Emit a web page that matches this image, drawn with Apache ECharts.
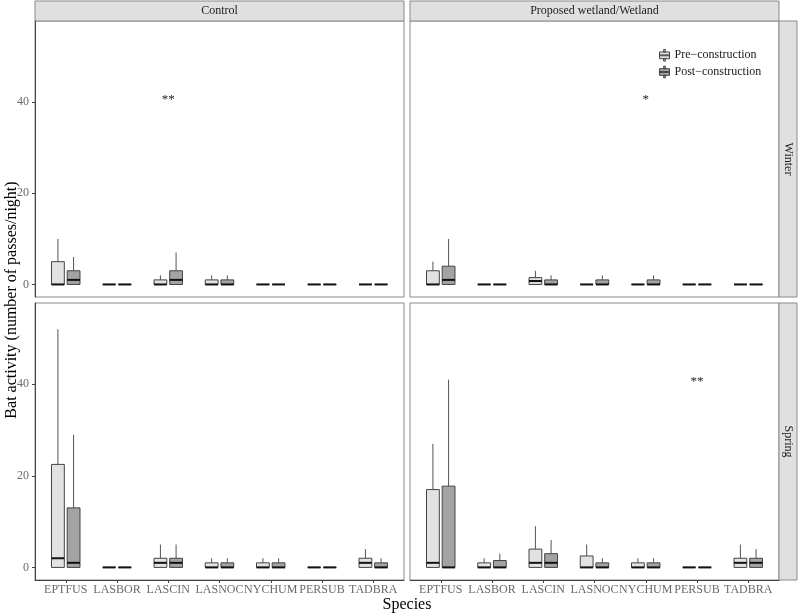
<!DOCTYPE html>
<html lang="en">
<head>
    <meta charset="UTF-8">
    <title>Bat activity boxplots</title>
    <script src="https://cdn.jsdelivr.net/npm/echarts@6.0.0/dist/echarts.min.js"></script>
    <style>
        html, body {
            margin: 0;
            padding: 0;
            background: #fff;
        }

        #chart {
            width: 800px;
            height: 615px;
        }
    </style>
</head>
<body>
<div id="chart"></div>
<script>
    const species = ['EPTFUS', 'LASBOR', 'LASCIN', 'LASNOC', 'NYCHUM', 'PERSUB', 'TADBRA'];
    const yTicks = [0, 20, 40];
    const groups = ['Pre−construction', 'Post−construction'];

    // one row per species: [min, q1, median, q3, max]
    const controlWinterPre = [[0, 0, 0, 5, 10], [0, 0, 0, 0, 0], [0, 0, 0, 1, 2], [0, 0, 0, 1, 2], [0, 0, 0, 0, 0], [0, 0, 0, 0, 0], [0, 0, 0, 0, 0]];
    const controlWinterPost = [[0, 0, 1, 3, 6], [0, 0, 0, 0, 0], [0, 0, 1, 3, 7], [0, 0, 0, 1, 2], [0, 0, 0, 0, 0], [0, 0, 0, 0, 0], [0, 0, 0, 0, 0]];
    const wetlandWinterPre = [[0, 0, 0, 3, 5], [0, 0, 0, 0, 0], [0, 0, 0.75, 1.5, 3], [0, 0, 0, 0, 0], [0, 0, 0, 0, 0], [0, 0, 0, 0, 0], [0, 0, 0, 0, 0]];
    const wetlandWinterPost = [[0, 0, 1, 4, 10], [0, 0, 0, 0, 0], [0, 0, 0, 1, 2], [0, 0, 0, 1, 2], [0, 0, 0, 1, 2], [0, 0, 0, 0, 0], [0, 0, 0, 0, 0]];
    const controlSpringPre = [[0, 0, 2, 22.5, 52], [0, 0, 0, 0, 0], [0, 0, 1, 2, 5], [0, 0, 0, 1, 2], [0, 0, 0, 1, 2], [0, 0, 0, 0, 0], [0, 0, 1, 2, 4]];
    const controlSpringPost = [[0, 0, 1, 13, 29], [0, 0, 0, 0, 0], [0, 0, 1, 2, 5], [0, 0, 0, 1, 2], [0, 0, 0, 1, 2], [0, 0, 0, 0, 0], [0, 0, 0, 1, 2]];
    const wetlandSpringPre = [[0, 0, 1, 17, 27], [0, 0, 0, 1, 2], [0, 0, 1, 4, 9], [0, 0, 0, 2.5, 5], [0, 0, 0, 1, 2], [0, 0, 0, 0, 0], [0, 0, 1, 2, 5]];
    const wetlandSpringPost = [[0, 0, 0, 17.75, 41], [0, 0, 0, 1.5, 3], [0, 0, 1, 3, 6], [0, 0, 0, 1, 2], [0, 0, 0, 1, 2], [0, 0, 0, 0, 0], [0, 0, 1, 2, 4]];

    // significance marks: [panel, species, y, text]
    const sigMarks = [
        [0, 'LASCIN', 40.5, '**'],
        [1, 'NYCHUM', 40.5, '*'],
        [3, 'PERSUB', 40.5, '**']
    ];

    const panels = [
        {pre: controlWinterPre, post: controlWinterPost, grid: {left: 35, top: 21, width: 369, height: 276}},
        {pre: wetlandWinterPre, post: wetlandWinterPost, grid: {left: 410, top: 21, width: 369, height: 276}},
        {pre: controlSpringPre, post: controlSpringPost, grid: {left: 35, top: 303, width: 369, height: 277}},
        {pre: wetlandSpringPre, post: wetlandSpringPost, grid: {left: 410, top: 303, width: 369, height: 277}}
    ];

    const font = '"Liberation Serif", "DejaVu Serif", serif';
    const fills = ['#e2e2e2', '#a3a3a3'];
    const dodge = [-0.153, 0.153];
    const boxWidth = 0.25;
    const catTicks = species.map((s, i) => i + 1);

    function boxRenderer(offset, fill) {
        return function (params, api) {
            const x = api.value(0) + offset;
            const v = [1, 2, 3, 4, 5].map(k => api.value(k));
            const half = api.size([boxWidth, 0])[0] / 2;
            const cx = api.coord([x, 0])[0];
            const y = val => api.coord([x, val])[1];
            return {
                type: 'group',
                children: [
                    {type: 'line', shape: {x1: cx, y1: y(v[3]), x2: cx, y2: y(v[4])}, style: {stroke: '#555', lineWidth: 1}},
                    {type: 'line', shape: {x1: cx, y1: y(v[1]), x2: cx, y2: y(v[0])}, style: {stroke: '#555', lineWidth: 1}},
                    {
                        type: 'rect',
                        shape: {x: cx - half, y: y(v[3]), width: half * 2, height: y(v[1]) - y(v[3])},
                        style: {fill: fill, stroke: '#444', lineWidth: 1}
                    },
                    {type: 'line', shape: {x1: cx - half, y1: y(v[2]), x2: cx + half, y2: y(v[2])}, style: {stroke: '#111', lineWidth: 2}}
                ]
            };
        };
    }

    const grids = [], xAxes = [], yAxes = [], series = [];
    panels.forEach((p, k) => {
        const bottom = k >= 2;
        const left = k % 2 === 0;
        grids.push(Object.assign({show: true, borderColor: '#8a8a8a', borderWidth: 1, backgroundColor: '#fff'}, p.grid));
        xAxes.push({
            type: 'value', gridIndex: k, min: 0.4, max: 7.6,
            splitLine: {show: false},
            axisLine: {show: bottom, onZero: false, lineStyle: {color: '#444'}},
            axisTick: {show: bottom, customValues: catTicks, length: 3, lineStyle: {color: '#444'}},
            axisLabel: {
                show: bottom, customValues: catTicks, margin: 4,
                formatter: val => species[Math.round(val) - 1],
                color: '#6a6a6a', fontFamily: font, fontSize: 12
            }
        });
        yAxes.push({
            type: 'value', gridIndex: k, min: -2.75, max: 57.75,
            splitLine: {show: false},
            axisLine: {show: left, lineStyle: {color: '#444'}},
            axisTick: {show: left, customValues: yTicks, length: 3, lineStyle: {color: '#444'}},
            axisLabel: {show: left, customValues: yTicks, margin: 6, color: '#6a6a6a', fontFamily: font, fontSize: 12}
        });
        [p.pre, p.post].forEach((arr, g) => {
            series.push({
                type: 'custom', name: groups[g], xAxisIndex: k, yAxisIndex: k,
                itemStyle: {color: fills[g]},
                renderItem: boxRenderer(dodge[g], fills[g]),
                encode: {x: 0, y: [1, 2, 3, 4, 5]},
                data: arr.map((d, i) => [i + 1].concat(d)),
                silent: true
            });
        });
        const marks = sigMarks.filter(m => m[0] === k);
        if (marks.length) {
            series.push({
                type: 'custom', xAxisIndex: k, yAxisIndex: k, silent: true,
                renderItem: function (params, api) {
                    const pt = api.coord([api.value(0), api.value(1)]);
                    return {
                        type: 'text', x: pt[0], y: pt[1],
                        style: {text: marks[params.dataIndex][3], align: 'center', verticalAlign: 'middle', fontFamily: font, fontSize: 13, fill: '#222'}
                    };
                },
                data: marks.map(m => [species.indexOf(m[1]) + 1, m[2]])
            });
        }
    });

    const boxIcon = 'path://M5,0L7,0L7,3L5,3Z M0,3L12,3L12,11L0,11Z M0,6.5L12,6.5L12,7.5L0,7.5Z M5,11L7,11L7,14L5,14Z';

    function strip(x, y, w, h, label, vertical) {
        return [
            {type: 'rect', shape: {x: x, y: y, width: w, height: h}, style: {fill: '#e0e0e0', stroke: '#8a8a8a', lineWidth: 1}, silent: true},
            {
                type: 'text', x: x + w / 2, y: y + h / 2, rotation: vertical ? -Math.PI / 2 : 0,
                style: {text: label, align: 'center', verticalAlign: 'middle', fontFamily: font, fontSize: 12, fill: '#222'}
            }
        ];
    }

    const chart = echarts.init(document.getElementById('chart'));
    chart.setOption({
        animation: false,
        backgroundColor: '#fff',
        grid: grids,
        xAxis: xAxes,
        yAxis: yAxes,
        series: series,
        legend: {
            orient: 'vertical', left: 654, top: 44,
            itemWidth: 10, itemHeight: 13, itemGap: 4,
            selectedMode: false,
            textStyle: {fontFamily: font, fontSize: 12, color: '#222'},
            data: groups.map((g, i) => ({
                name: g, icon: boxIcon,
                itemStyle: {color: fills[i], borderColor: '#444', borderWidth: 1}
            }))
        },
        graphic: [].concat(
            strip(35, 1, 369, 20, 'Control', false),
            strip(410, 1, 369, 20, 'Proposed wetland/Wetland', false),
            strip(779, 21, 18, 276, 'Winter', true),
            strip(779, 303, 18, 277, 'Spring', true),
            [
                {
                    type: 'text', x: 407, y: 605,
                    style: {text: 'Species', align: 'center', verticalAlign: 'middle', fontFamily: font, fontSize: 16, fill: '#000'}
                },
                {
                    type: 'text', x: 12, y: 300, rotation: Math.PI / 2,
                    style: {text: 'Bat activity (number of passes/night)', align: 'center', verticalAlign: 'middle', fontFamily: font, fontSize: 16, fill: '#000'}
                }
            ]
        )
    });
</script>
</body>
</html>
